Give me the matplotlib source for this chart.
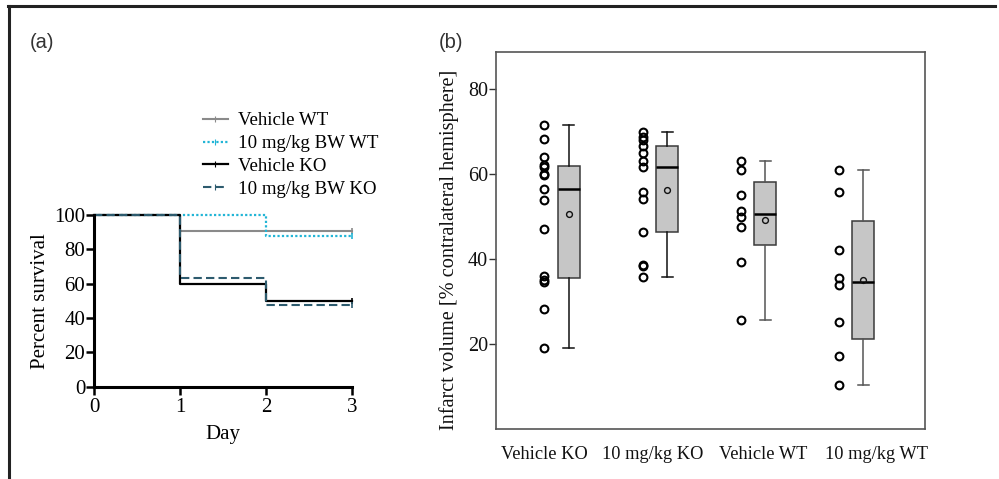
import matplotlib
matplotlib.use("Agg")
import matplotlib.pyplot as plt
import numpy as np
from matplotlib.lines import Line2D

# ---------------- data ----------------
days = [0, 1, 2, 3]
surv_vehicle_wt = [100, 90.9, 90.9, 90.9]
surv_drug_wt = [100, 100, 87.5, 87.5]
surv_vehicle_ko = [100, 60.0, 50.0, 50.0]
surv_drug_ko = [100, 63.2, 47.4, 47.4]
surv_labels = ["Vehicle WT", "10 mg/kg BW WT", "Vehicle KO", "10 mg/kg BW KO"]

box_categories = ["Vehicle KO", "10 mg/kg KO", "Vehicle WT", "10 mg/kg WT"]
vehicle_ko = [71.5, 68.3, 64.0, 62.1, 61.6, 60.0, 59.8, 56.5, 54.0, 47.1,
              36.1, 35.1, 34.5, 28.3, 19.1]
drug_ko = [70.0, 68.8, 68.1, 66.7, 64.9, 63.1, 61.6, 55.8, 54.2, 46.4,
           38.7, 38.3, 35.8]
vehicle_wt = [63.1, 61.0, 55.1, 51.4, 49.8, 47.5, 39.3, 25.6]
drug_wt = [60.9, 55.8, 42.2, 35.5, 33.8, 25.2, 17.1, 10.3]
box_groups = [vehicle_ko, drug_ko, vehicle_wt, drug_wt]

SERIF = ["Liberation Serif", "DejaVu Serif"]
SANS = ["Liberation Sans", "DejaVu Sans"]
plt.rcParams["font.family"] = SERIF

fig = plt.figure(figsize=(9.99, 4.79), dpi=100)

# outer border (top and left)
fig.add_artist(Line2D([8 / 999, 995 / 999], [1 - 6 / 479, 1 - 6 / 479],
                      transform=fig.transFigure, color="#222222", lw=2.2))
fig.add_artist(Line2D([8.5 / 999, 8.5 / 999], [1 - 6 / 479, 0],
                      transform=fig.transFigure, color="#222222", lw=2.2))

fig.text(30 / 999, 1 - 43 / 479, "(a)", family=SANS, fontsize=14.5,
         color="#333333", va="center", ha="left")
fig.text(439 / 999, 1 - 42 / 479, "(b)", family=SANS, fontsize=14.5,
         color="#333333", va="center", ha="left")

# ---------------- panel (a) ----------------
axa = fig.add_axes([94.3 / 999, 1 - 386.7 / 479, (352.3 - 94.3) / 999,
                    (386.7 - 215) / 479])
styles = [
    dict(color="#8a8a8a", ls="-", lw=1.5),
    dict(color="#22b5d6", ls=(0, (1, 1)), lw=1.6),
    dict(color="#000000", ls="-", lw=1.6),
    dict(color="#2d5b6e", ls=(0, (4, 2)), lw=1.5),
]
series = [surv_vehicle_wt, surv_drug_wt, surv_vehicle_ko, surv_drug_ko]
for vals, st, lab in zip(series, styles, surv_labels):
    axa.step(days, vals, where="post", clip_on=False, label=lab,
             marker="|", markevery=[len(days) - 1], markersize=5,
             markeredgewidth=1.2, **st)
axa.set_xlim(0, 3)
axa.set_ylim(0, 100)
axa.set_xticks(days)
axa.set_yticks([0, 20, 40, 60, 80, 100])
for s in ["top", "right"]:
    axa.spines[s].set_visible(False)
for s in ["left", "bottom"]:
    axa.spines[s].set_linewidth(2.2)
    axa.spines[s].set_color("black")
axa.tick_params(axis="both", direction="out", length=6, width=1.8,
                labelsize=15, pad=0.5, colors="black")
axa.tick_params(axis="x", pad=2)
axa.set_xlabel("Day", fontsize=15, labelpad=6)
axa.set_ylabel("Percent survival", fontsize=15, labelpad=3)

leg_handles = []
for st in styles:
    leg_handles.append(Line2D([0], [0], marker="|", markersize=4,
                              markeredgewidth=0.8, **st))
fig.legend(leg_handles, surv_labels, loc="upper left",
           bbox_to_anchor=(203 / 999, 1 - 112 / 479), frameon=False,
           fontsize=13.6, handlelength=1.3, handletextpad=0.55,
           borderpad=0, borderaxespad=0, labelspacing=0.3)

# ---------------- panel (b) ----------------
axb = fig.add_axes([496.3 / 999, 1 - 429 / 479, (925.3 - 496.3) / 999,
                    (429 - 51.7) / 479])


def tukey_stats(data, label):
    x = np.sort(np.asarray(data, dtype=float))
    n = len(x)
    n4 = np.floor((n + 3) / 2) / 2
    d = np.array([1, n4, (n + 1) / 2, n + 1 - n4, n]) - 1
    five = 0.5 * (x[np.floor(d).astype(int)] + x[np.ceil(d).astype(int)])
    return dict(med=five[2], q1=five[1], q3=five[3], whislo=five[0],
                whishi=five[4], mean=x.mean(), fliers=[], label=label)


positions = np.arange(1, len(box_groups) + 1)
# category labels in the original sit slightly apart from the box centres
label_positions = positions + np.array([-0.25, -0.15, -0.02, 0.13])
stats = [tukey_stats(g, c) for g, c in zip(box_groups, box_categories)]
whisk_cols = ["#111111", "#111111", "#555555", "#555555"]
for i, (st, pos) in enumerate(zip(stats, positions)):
    axb.bxp([st], positions=[pos], widths=0.225, patch_artist=True,
            showmeans=False, showfliers=False,
            boxprops=dict(facecolor="#c6c6c6", edgecolor="#3a3a3a", lw=1.1),
            medianprops=dict(color="black", lw=1.8),
            whiskerprops=dict(color=whisk_cols[i], lw=1.1),
            capprops=dict(color=whisk_cols[i], lw=1.1),
            manage_ticks=False)
    axb.plot([pos], [st["mean"]], marker="o", ms=4.2, mfc="none",
             mec="#111111", mew=1.0, zorder=5)
    axb.plot(np.full(len(box_groups[i]), pos - 0.25), box_groups[i],
             ls="none", marker="o", ms=5.6, mfc="none", mec="black",
             mew=1.5, zorder=5)

axb.set_xlim(0.26, 4.63)
axb.set_ylim(0, 88.8)
axb.set_yticks([20, 40, 60, 80])
axb.set_xticks(label_positions)
axb.set_xticklabels(box_categories)
for s in axb.spines.values():
    s.set_color("#555555")
    s.set_linewidth(1.2)
axb.tick_params(axis="y", direction="out", length=5, width=1.0,
                labelsize=14.5, pad=1, colors="#333333", labelcolor="#111111")
axb.tick_params(axis="x", length=0, labelsize=13.2, pad=12,
                labelcolor="#111111")
axb.set_ylabel("Infarct volume [% contralateral hemisphere]", fontsize=14.6,
               color="#111111")
axb.yaxis.set_label_coords(-0.088, 0.476)

fig.savefig("out.png", dpi=100)
